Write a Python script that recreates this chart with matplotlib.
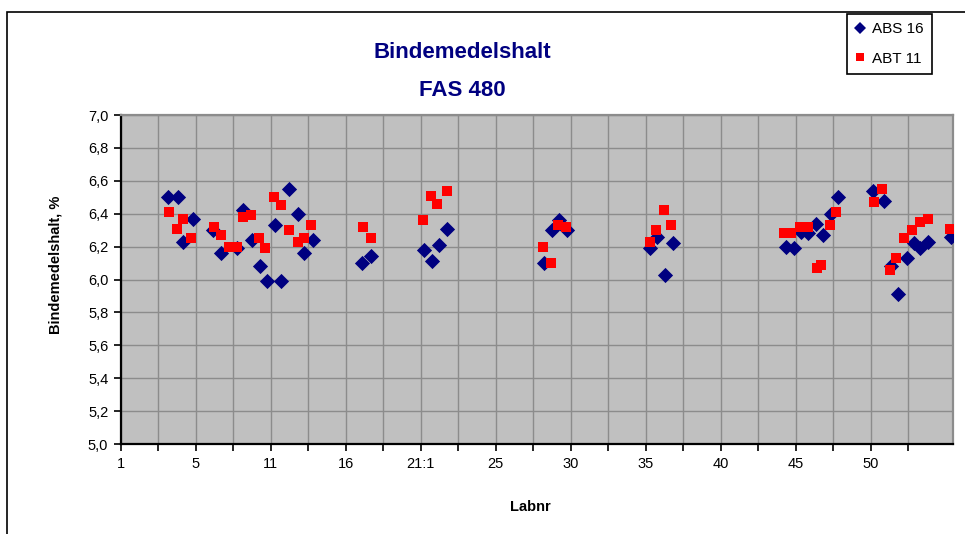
# Bindemedelshalt FAS 480: ABS 16 och ABT 11 per laboratorium

import numpy as np
import matplotlib.pyplot as plt
from matplotlib.lines import Line2D
from matplotlib.patches import Rectangle

# x-läge i diagrammet (en enhet = ett skalstreck), y = bindemedelshalt %
abs16_x = [1.27, 1.52, 1.92, 1.67, 2.47, 2.68, 3.10, 3.27, 3.50, 3.72, 3.90, 4.27,
           4.12, 4.49, 4.73, 4.90, 5.13, 6.44, 6.68, 8.10, 8.30, 8.50, 8.71, 11.28,
           11.51, 11.70, 11.91, 14.12, 14.31, 14.51, 14.73, 17.74, 17.96, 18.14, 18.32,
           18.54, 18.72, 18.94, 19.12, 20.07, 20.35, 20.54, 20.72, 20.96, 21.15, 21.32,
           21.54, 22.14]
abs16_y = [6.50, 6.50, 6.37, 6.23, 6.30, 6.16, 6.19, 6.42, 6.24, 6.08, 5.99, 5.99,
           6.33, 6.55, 6.40, 6.16, 6.24, 6.10, 6.14, 6.18, 6.11, 6.21, 6.31, 6.10,
           6.30, 6.36, 6.30, 6.19, 6.26, 6.03, 6.22, 6.20, 6.19, 6.29, 6.28,
           6.34, 6.27, 6.40, 6.50, 6.54, 6.48, 6.08, 5.91, 6.13, 6.22, 6.19,
           6.23, 6.26]

abt11_x = [1.29, 1.50, 1.67, 1.88, 2.49, 2.68, 2.90, 3.10, 3.26, 3.48, 3.69, 3.85,
           4.09, 4.28, 4.49, 4.72, 4.88, 5.08, 6.46, 6.68, 8.06, 8.28, 8.44, 8.69,
           11.27, 11.48, 11.66, 11.89, 14.11, 14.27, 14.48, 14.69, 17.68, 17.87, 18.12,
           18.32, 18.56, 18.69, 18.91, 19.07, 20.08, 20.30, 20.52, 20.68, 20.88, 21.10,
           21.32, 21.52, 22.13]
abt11_y = [6.41, 6.31, 6.37, 6.25, 6.32, 6.27, 6.20, 6.20, 6.38, 6.39, 6.25, 6.19,
           6.50, 6.45, 6.30, 6.23, 6.25, 6.33, 6.32, 6.25, 6.36, 6.51, 6.46, 6.54,
           6.20, 6.10, 6.33, 6.32, 6.23, 6.30, 6.42, 6.33, 6.28, 6.28, 6.32,
           6.32, 6.07, 6.09, 6.33, 6.41, 6.47, 6.55, 6.06, 6.13, 6.25, 6.30,
           6.35, 6.37, 6.31]

tick_labels = ['1', '5', '11', '16', '21:1', '25', '30', '35', '40', '45', '50']

plt.rcParams['font.family'] = ['Liberation Sans', 'DejaVu Sans']

fig = plt.figure(figsize=(9.65, 5.34), dpi=100)
ax = fig.add_axes([0.1251, 0.1685, 0.8625, 0.6161])

ax.set_facecolor('#c0c0c0')
ax.scatter(abs16_x, abs16_y, marker='D', s=60, color='#000080', linewidths=0, zorder=3)
ax.scatter(abt11_x, abt11_y, marker='s', s=62, color='#ff0000', linewidths=0, zorder=4)

ax.set_xlim(0, 22.2)
ax.set_ylim(5.0, 7.0)
ax.set_yticks(np.arange(5.0, 7.01, 0.2))
ax.set_yticklabels([f'{v:.1f}'.replace('.', ',') for v in np.arange(5.0, 7.01, 0.2)])
ax.set_xticks(np.arange(0, 22, 2))
ax.set_xticklabels(tick_labels)
ax.set_xticks(np.arange(1, 23, 2), minor=True)

ax.grid(True, which='both', color='#8c8c8c', linewidth=1.0, zorder=1)
ax.set_axisbelow(True)
ax.tick_params(which='both', direction='out', length=5, width=1.2, color='black',
               labelsize=10.5, pad=4)

for side in ['left', 'bottom']:
    ax.spines[side].set_linewidth(1.6)
    ax.spines[side].set_color('black')
for side in ['top', 'right']:
    ax.spines[side].set_linewidth(1.6)
    ax.spines[side].set_color('#8c8c8c')

# titel i två rader
fig.text(462 / 965, 1 - 53 / 534, 'Bindemedelshalt', ha='center', va='center',
         fontsize=16, fontweight='bold', color='#000080')
fig.text(462 / 965, 1 - 90 / 534, 'FAS 480', ha='center', va='center',
         fontsize=16, fontweight='bold', color='#000080')

fig.text(56 / 965, 1 - 265 / 534, 'Bindemedelshalt, %', rotation=90, ha='center',
         va='center', fontsize=10.5, fontweight='bold')
fig.text(530 / 965, 1 - 507 / 534, 'Labnr', ha='center', va='center',
         fontsize=10.5, fontweight='bold')

# ram runt diagramytan
fig.patches.append(Rectangle((7 / 965, -0.1), 1.1, 1 - 12 / 534 + 0.1,
                             transform=fig.transFigure, fill=False,
                             edgecolor='black', linewidth=1.2))

handles = [
    Line2D([], [], marker='D', linestyle='none', markersize=6, color='#000080',
           markeredgewidth=0, label='ABS 16'),
    Line2D([], [], marker='s', linestyle='none', markersize=6, color='#ff0000',
           markeredgewidth=0, label='ABT 11'),
]
leg = fig.legend(handles=handles, loc='upper left',
                 bbox_to_anchor=(847 / 965, 1 - 14 / 534), fontsize=11,
                 frameon=True, fancybox=False, framealpha=1, edgecolor='black',
                 handlelength=0.6, handletextpad=0.5, borderpad=0.55,
                 labelspacing=1.0, borderaxespad=0)
leg.get_frame().set_linewidth(1.2)

plt.savefig('out.png', dpi=100)
